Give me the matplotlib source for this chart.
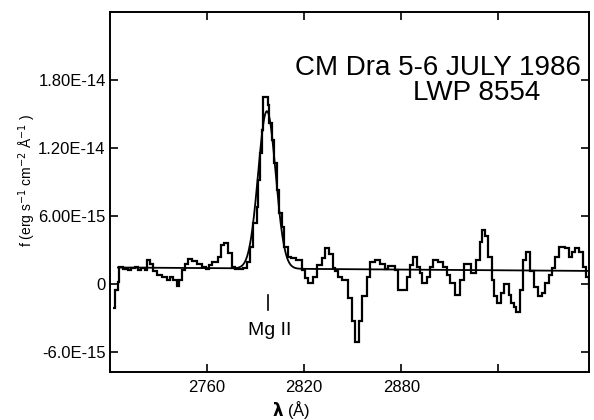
import numpy as np
import matplotlib
matplotlib.use("Agg")
from matplotlib import pyplot as plt
from matplotlib.ticker import FixedLocator, FixedFormatter

plt.rcParams['font.family'] = ['Liberation Sans', 'DejaVu Sans']

# left edge of each step (Angstrom) and flux (1e-15 erg/s/cm2/A)
wave = [2701.9, 2703.1, 2704.8, 2705.6, 2708.2, 2711.3, 2713.0, 2715.5, 2717.5, 2719.2,
        2721.6, 2722.7, 2724.7, 2726.8, 2728.9, 2732.0, 2735.1, 2737.1, 2739.1, 2741.2,
        2742.7, 2744.3, 2746.4, 2748.4, 2750.9, 2753.6, 2756.7, 2759.2, 2761.2, 2763.3,
        2767.0, 2768.6, 2770.7, 2773.2, 2775.3, 2777.3, 2782.4, 2784.5, 2786.6, 2788.6,
        2790.7, 2791.7, 2792.8, 2793.8, 2794.8, 2797.5, 2798.5, 2800.0, 2801.6, 2803.1,
        2804.5, 2806.2, 2807.8, 2809.9, 2811.9, 2814.8, 2818.5, 2820.6, 2822.6, 2825.7,
        2827.8, 2830.9, 2833.0, 2835.6, 2837.7, 2839.1, 2841.2, 2843.3, 2847.4, 2849.5,
        2851.5, 2854.2, 2855.7, 2858.7, 2860.8, 2863.9, 2867.0, 2870.1, 2872.1, 2876.2,
        2878.3, 2883.5, 2885.5, 2887.2, 2889.7, 2891.3, 2892.8, 2895.8, 2897.9, 2899.9,
        2903.0, 2906.1, 2908.2, 2910.3, 2913.3, 2916.4, 2918.5, 2923.1, 2926.3, 2928.4,
        2929.9, 2931.9, 2933.9, 2936.0, 2937.5, 2939.1, 2941.6, 2943.2, 2946.3, 2947.8,
        2949.4, 2951.1, 2953.1, 2955.2, 2957.3, 2959.3, 2961.8, 2964.2, 2967.0, 2969.0,
        2971.0, 2973.1, 2975.2, 2977.2, 2981.4, 2983.4, 2985.5, 2987.6, 2989.6, 2992.3,
        2994.4, 2995.8]
wave_end = 2997.0
flux = [-2.1, -0.5, 0.2, 1.5, 1.3, 1.2, 1.45, 1.5, 1.2, 1.45,
        1.2, 2.1, 1.8, 1.1, 0.8, 0.6, 0.35, 0.6, 0.35, -0.2,
        0.35, 1.2, 1.8, 2.2, 2.0, 1.75, 1.5, 1.3, 1.7, 1.9,
        2.4, 3.4, 3.6, 2.7, 1.5, 1.3, 1.4, 1.9, 3.3, 5.4,
        6.8, 9.2, 11.6, 13.6, 16.5, 15.8, 14.2, 12.7, 10.7, 8.3,
        6.3, 5.0, 3.3, 2.4, 2.3, 2.1, 1.2, 0.5, 0.1, 0.6,
        1.7, 2.3, 3.2, 2.6, 1.4, 1.1, 0.6, 0.35, -1.2, -3.3,
        -5.1, -3.3, -1.1, 0.6, 1.9, 2.1, 1.8, 1.3, 1.6, 1.2,
        -0.5, 0.6, 1.7, 2.4, 1.5, 1.0, 0.1, 0.6, 1.5, 2.1,
        1.9, 1.5, 0.8, 0.1, -1.0, 0.35, 1.8, 1.0, 2.1, 3.7,
        4.8, 4.2, 2.4, 0.35, -1.1, -1.7, -0.8, 0.0, -1.0, -1.7,
        -2.0, -2.5, -0.5, 2.1, 2.8, 1.1, -0.3, -1.1, -0.8, 0.1,
        0.8, 1.4, 2.4, 3.3, 3.2, 2.4, 2.8, 3.2, 2.8, 1.5,
        0.6, -0.4]

# gaussian fit on a sloping continuum (1e-15 units)
fit_range = [2705.0, 2996.0]
cont_ends = [1.45, 1.15]
line_center = 2797.0
line_amp = 13.9
line_sigma = 5.4

xticks = [2760, 2820, 2880, 2940]
xticklabels = ['2760', '2820', '2880', '']
yticks = [-6e-15, 0, 6e-15, 1.2e-14, 1.8e-14]
yticklabels = ['-6.0E-15', '0', '6.00E-15', '1.20E-14', '1.80E-14']

fig = plt.figure(figsize=(5.94, 4.2), dpi=100)
ax = fig.add_axes([0.185, 0.1143, 0.8066, 0.8571])

edges = np.array(wave + [wave_end])
ax.stairs(np.array(flux) * 1e-15, edges, baseline=None, color='black', lw=1.6)

xf = np.linspace(fit_range[0], fit_range[1], 600)
cont = np.interp(xf, fit_range, cont_ends)
yf = cont + line_amp * np.exp(-0.5 * ((xf - line_center) / line_sigma) ** 2)
ax.plot(xf, yf * 1e-15, color='black', lw=1.3)

# Mg II marker
ax.plot([2797.5, 2797.5], [-1.0e-15, -2.3e-15], color='black', lw=1.2)
ax.text(2785.3, -4.5e-15, 'Mg II', fontsize=14, ha='left', va='baseline')

ax.text(0.386, 0.825, 'CM Dra 5-6 JULY 1986', transform=ax.transAxes,
        fontsize=20, ha='left', va='baseline')
ax.text(0.633, 0.756, 'LWP 8554', transform=ax.transAxes,
        fontsize=20, ha='left', va='baseline')

ax.set_xlim(2700, 2996)
ax.set_ylim(-7.77e-15, 2.40e-14)
ax.xaxis.set_major_locator(FixedLocator(xticks))
ax.xaxis.set_major_formatter(FixedFormatter(xticklabels))
ax.yaxis.set_major_locator(FixedLocator(yticks))
ax.yaxis.set_major_formatter(FixedFormatter(yticklabels))
ax.tick_params(direction='in', length=6, width=1.2, labelsize=12,
               top=True, right=True, pad=3)
ax.tick_params(axis='x', pad=6)
for s in ax.spines.values():
    s.set_linewidth(1.4)

ax.text(0.378, -0.122, r'$\boldsymbol{\lambda}$ (Å)', transform=ax.transAxes,
        fontsize=12, ha='center', va='baseline')
ax.text(-0.172, 0.533, r'f (erg s$^{-1}$ cm$^{-2}$ Å$^{-1}$ )', transform=ax.transAxes,
        fontsize=10, rotation=90, ha='center', va='center')

fig.savefig('out.png', dpi=100)
